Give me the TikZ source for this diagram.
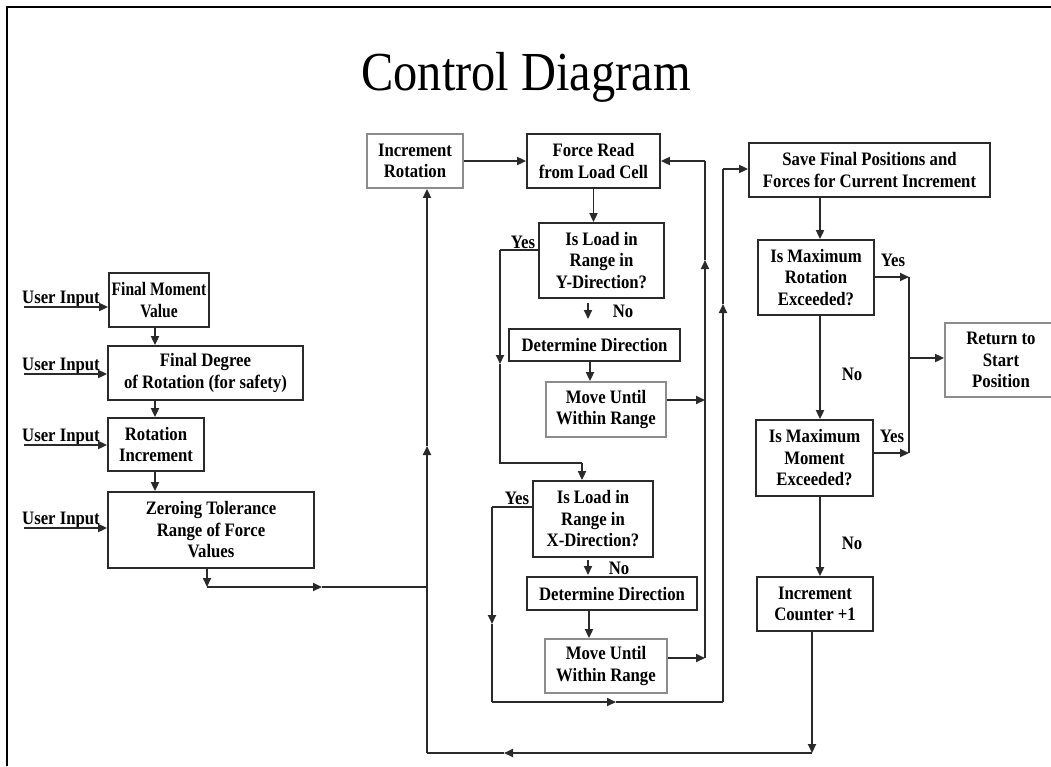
\documentclass[tikz,border=0pt]{standalone}
\usepackage{fontspec}
\setmainfont{Liberation Serif}[FakeStretch=0.88]
\usetikzlibrary{arrows.meta}
\definecolor{lnc}{HTML}{2A2A2A}
\definecolor{gbc}{HTML}{8C8C8C}
\tikzset{
  box/.style={draw=lnc, line width=1.8pt, align=center, inner sep=0pt, text=black,
    font=\bfseries\fontsize{19}{21.5}\selectfont},
  gbox/.style={box, draw=gbc},
  arr/.style={draw=lnc, line width=1.8pt, -{Triangle[length=9pt,width=8pt]}},
  lnk/.style={draw=lnc, line width=1.8pt},
  lbl/.style={font=\bfseries\fontsize{19}{21.5}\selectfont, inner sep=0pt, text=black}
}
\newcommand{\sq}[1]{\scalebox{0.93}[1]{#1}}
\begin{document}
\begin{tikzpicture}[x=1pt,y=-1pt]
\useasboundingbox (0,0) rectangle (1051,766);
\fill[white] (0,0) rectangle (1051,766);
\draw[line width=2.5pt, black] (7,766) -- (7,7) -- (1051,7);

\node[font=\fontsize{55}{60}\selectfont] (title) at (526,77) {Control Diagram};

% left column
\node[box, minimum width=100pt, minimum height=54pt] (fm) at (159,300) {\sq{Final Moment}\\\sq{Value}};
\node[box, minimum width=195pt, minimum height=54pt] (fd) at (205.5,373) {Final Degree\\of Rotation (for safety)};
\node[box, minimum width=96pt, minimum height=53pt] (ri) at (156,444.5) {Rotation\\Increment};
\node[box, minimum width=206pt, minimum height=76pt] (zt) at (211,530) {Zeroing Tolerance\\Range of Force\\Values};

% middle
\node[gbox, minimum width=96pt, minimum height=54pt] (ir) at (415,161) {Increment\\Rotation};
\node[box, minimum width=133pt, minimum height=54pt] (fr) at (593.5,161) {Force Read\\from Load Cell};
\node[box, minimum width=125pt, minimum height=75pt] (ly) at (601.5,260.5) {Is Load in\\Range in\\Y-Direction?};
\node[box, minimum width=171pt, minimum height=32pt] (ddy) at (594.5,345) {Determine Direction};
\node[gbox, minimum width=120pt, minimum height=55pt] (muy) at (606,409.5) {Move Until\\Within Range};
\node[box, minimum width=120pt, minimum height=76pt] (lx) at (593,519) {Is Load in\\Range in\\X-Direction?};
\node[box, minimum width=170pt, minimum height=33pt] (ddx) at (612,593.5) {Determine Direction};
\node[gbox, minimum width=122pt, minimum height=54pt] (mux) at (606,666) {Move Until\\Within Range};

% right
\node[box, minimum width=241pt, minimum height=54pt] (sf) at (869.5,170) {Save Final Positions and\\Forces for Current Increment};
\node[box, minimum width=116pt, minimum height=75pt] (mr) at (816,277.5) {Is Maximum\\Rotation\\Exceeded?};
\node[gbox, minimum width=112pt, minimum height=74pt] (rs) at (1001,360) {Return to\\Start\\Position};
\node[box, minimum width=117pt, minimum height=76pt] (mm) at (814.5,458) {Is Maximum\\Moment\\Exceeded?};
\node[box, minimum width=116pt, minimum height=54pt] (ic) at (815,604) {Increment\\Counter +1};

% user inputs
\foreach \n/\y in {fm/307, fd/374, ri/445, zt/528} {
  \coordinate (u\n) at (24,\y);
  \node[lbl, anchor=base west] (ui\n) at (22,\y-4) {User Input};
  \draw[arr] (u\n) -- (u\n -| \n.west);
}

% left column flow
\coordinate (xl) at (155,0);
\draw[arr] (fm.south -| xl) -- (fd.north -| xl);
\draw[arr] (fd.south -| xl) -- (ri.north -| xl);
\draw[arr] (ri.south -| xl) -- (zt.north -| xl);

\coordinate (j0) at (207,587);
\coordinate (j0a) at (322,587);
\coordinate (j1) at (427,587);
\draw[arr] (zt.south -| j0) -- (j0);
\draw[arr] (j0) -- (j0a);
\draw[lnk] (j0a) -- (j1);

% bottom loop
\coordinate (b1) at (812,753);
\coordinate (b1a) at (504,753);
\coordinate (b2) at (427,753);
\coordinate (b2a) at (427,446);
\draw[arr] (ic.south -| b1) -- (b1);
\draw[arr] (b1) -- (b1a);
\draw[lnk] (b1a) -- (b2);
\draw[arr] (b2) -- (b2a);
\draw[arr] (b2a) -- (ir.south -| b2);

\draw[arr] (ir.east) -- (fr.west);
\draw[arr] (fr.south) -- (fr.south |- ly.north);

% Y yes branch
\coordinate (y1) at (500,250);
\coordinate (y1a) at (500,364);
\coordinate (y2) at (500,463);
\coordinate (y3) at (582,463);
\draw[lnk] (ly.west |- y1) -- (y1);
\draw[arr] (y1) -- (y1a);
\draw[lnk] (y1a) -- (y2) -- (y3);
\draw[arr] (y3) -- (y3 |- lx.north);
\node[lbl] (yesy) at (523,242) {Yes};

% Y no
\coordinate (ny1) at (588,303);
\coordinate (ny2) at (588,319);
\draw[arr] (ny1) -- (ny2);
\node[lbl] (noy) at (623,311) {No};
\coordinate (xc) at (590,0);
\draw[arr] (ddy.south -| xc) -- (muy.north -| xc);

% return to force read
\coordinate (r1) at (705,400);
\coordinate (r0) at (705,658);
\coordinate (r0a) at (705,260);
\coordinate (r2) at (705,161);
\draw[arr] (muy.east |- r1) -- (r1);
\draw[arr] (r0) -- (r0a);
\draw[lnk] (r0a) -- (r2);
\draw[arr] (r2) -- (fr.east |- r2);

% X yes branch
\coordinate (x1) at (492,507);
\coordinate (x1a) at (492,624);
\coordinate (x2) at (492,702);
\coordinate (x2a) at (616,702);
\coordinate (x3) at (723,702);
\coordinate (x3a) at (723,304);
\coordinate (x4) at (723,169);
\draw[lnk] (lx.west |- x1) -- (x1);
\draw[arr] (x1) -- (x1a);
\draw[lnk] (x1a) -- (x2);
\draw[arr] (x2) -- (x2a);
\draw[lnk] (x2a) -- (x3);
\draw[arr] (x3) -- (x3a);
\draw[lnk] (x3a) -- (x4);
\draw[arr] (x4) -- (sf.west |- x4);
\node[lbl] (yesx) at (517,498) {Yes};

% X no
\coordinate (nx1) at (588,560);
\coordinate (nx2) at (588,575);
\draw[arr] (nx1) -- (nx2);
\node[lbl] (nox) at (619,568) {No};
\coordinate (xd) at (589,0);
\draw[arr] (ddx.south -| xd) -- (mux.north -| xd);
\draw[arr] (mux.east |- r0) -- (r0);

% right column
\coordinate (xr) at (820,0);
\draw[arr] (sf.south -| xr) -- (mr.north -| xr);
\coordinate (q1) at (909,277);
\coordinate (q2) at (909,453);
\coordinate (q3) at (909,358);
\draw[arr] (mr.east |- q1) -- (q1);
\draw[lnk] (q1) -- (q2);
\draw[arr] (q3) -- (rs.west |- q3);
\node[lbl] (yesr) at (893,260) {Yes};
\draw[arr] (mr.south -| xr) -- (mm.north -| xr);
\node[lbl] (nor) at (852,374) {No};
\draw[arr] (mm.east |- q2) -- (q2);
\node[lbl] (yesm) at (892,436) {Yes};
\draw[arr] (mm.south -| xr) -- (ic.north -| xr);
\node[lbl] (nom) at (852,543) {No};
\end{tikzpicture}
\end{document}
